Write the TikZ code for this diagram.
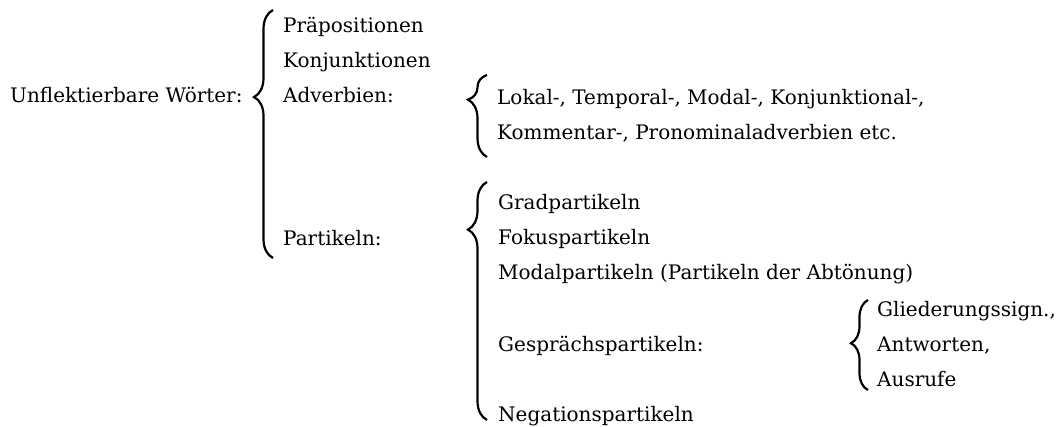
\documentclass[tikz,border=0pt]{standalone}
\usepackage{fontspec}
\setmainfont{DejaVu Serif}
\usetikzlibrary{decorations.pathreplacing}
\begin{document}
\begin{tikzpicture}[x=1pt,y=-1pt]
\tikzstyle{every node}+=[inner sep=0pt,anchor=base west,font=\fontsize{20}{24}\selectfont]
\tikzstyle{klammer}=[decorate,decoration={brace,amplitude=19pt},line width=2.2pt]
\useasboundingbox (0,0) rectangle (1058,427);
% Wortarten
\node (uw) at (10,103) {Unflektierbare Wörter:};
\node (prae) at (283,33) {Präpositionen};
\node (konj) at (283,68) {Konjunktionen};
\node (adv) at (283,103) {Adverbien:};
\node (part) at (283,246) {Partikeln:};
% Adverbien
\node (lokal) at (497,105) {Lokal-, Temporal-, Modal-, Konjunktional-,};
\node (komm) at (497,140) {Kommentar-, Pronominaladverbien etc.};
% Partikeln
\node (grad) at (498,210) {Gradpartikeln};
\node (fokus) at (498,245) {Fokuspartikeln};
\node (modal) at (498,280) {Modalpartikeln (Partikeln der Abtönung)};
\node (gespr) at (498,352) {Gesprächspartikeln:};
\node (neg) at (498,422) {Negationspartikeln};
% Gespraechspartikeln
\node (glied) at (877,317) {Gliederungssign.,};
\node (antw) at (877,352) {Antworten,};
\node (ausr) at (877,387) {Ausrufe};
% Klammern
\coordinate (k1o) at (273,10);
\coordinate (k1u) at (273,258);
\draw [klammer,decoration={aspect=0.649}] (k1u) -- (k1o);
\coordinate (k2o) at (487,75);
\coordinate (k2u) at (487,157);
\draw [klammer,decoration={aspect=0.70}] (k2u) -- (k2o);
\coordinate (k3o) at (487,182);
\coordinate (k3u) at (487,420);
\draw [klammer,decoration={aspect=0.80}] (k3u) -- (k3o);
\coordinate (k4o) at (868,300);
\coordinate (k4u) at (868,390);
\draw [klammer,decoration={aspect=0.52,amplitude=17pt}] (k4u) -- (k4o);
\end{tikzpicture}
\end{document}
